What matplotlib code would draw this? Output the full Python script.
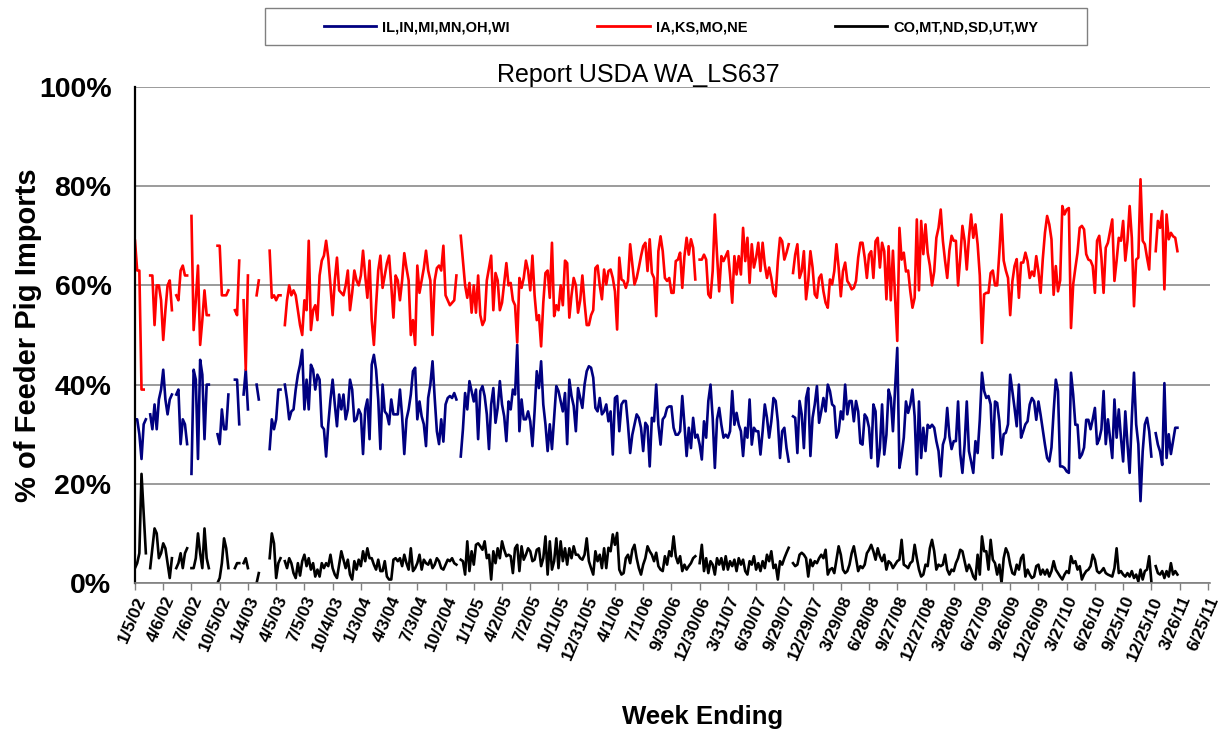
import numpy as np
import matplotlib
matplotlib.use("Agg")
import matplotlib.pyplot as plt
from matplotlib.lines import Line2D
from matplotlib.patches import Rectangle

nan = float("nan")

# ---------------- x axis (weekly data, tick every 13 weeks) ----------------
tick_labels = ["1/5/02", "4/6/02", "7/6/02", "10/5/02", "1/4/03", "4/5/03", "7/5/03",
               "10/4/03", "1/3/04", "4/3/04", "7/3/04", "10/2/04", "1/1/05", "4/2/05",
               "7/2/05", "10/1/05", "12/31/05", "4/1/06", "7/1/06", "9/30/06", "12/30/06",
               "3/31/07", "6/30/07", "9/29/07", "12/29/07", "3/29/08", "6/28/08", "9/27/08",
               "12/27/08", "3/28/09", "6/27/09", "9/26/09", "12/26/09", "3/27/10", "6/26/10",
               "9/25/10", "12/25/10", "3/26/11", "6/25/11"]
weeks_per_tick = 13

series_names = ["IL,IN,MI,MN,OH,WI", "IA,KS,MO,NE", "CO,MT,ND,SD,UT,WY"]

# ---------------- IL,IN,MI,MN,OH,WI (% of imports), weekly ----------------
east_a = [33, 33, 30, 25, 32, 33, nan, 34, 31, 36, 31, 37, 39, 43, 37, 34, 37, 38, nan, 38,
          39, 28, 33, 32, 28, nan, 22, 43, 41, 25, 45, 42, 29, 40, 40, nan, nan, nan, 30, 28,
          35, 31, 31, 38]
east_b = [nan, nan, 41, 41, 32, nan, 38, 43, 35, nan, nan, nan, 40, 37, nan, nan, nan, nan,
          27, 33, 31, 33, 39, 39, nan, 40, 37, 33, 34.6, 35, 39, 42, 44, 47, 35, 41, 35, 44,
          43, 39, 42, 41]
east_c = [31.6, 31, 25.5, 32, 37, 41, 36, 31.6, 38, 35, 38, 33, 35, 41, 39, 32.6, 33, 35, 34,
          26, 35, 37, 29, 44, 46, 43, 37, 27, 40, 34.6, 34, 32, 37, 34, 34, 34, 39, 33.6, 26,
          33, 35, 38, 42.7]
east_d = [43.4, 33, 36.6, 33.6, 32, 27.6, 37.3, 40, 44.7, 37.3, 30.6, 28, 33, 28.5, 36, 37.3,
          37.7, 37.3, 38.3, 37, nan, 25.5, 31, 38.3, 35, 40.7, 38.7, 36.6, 39, 29, 38.7, 39.7,
          37.7, 34, 27, 36, 39.3, 32.3, 35.3, 40.7, 36, 33.6, 28.6, 36.6]
east_e = [35, 39, 38, 48, 30.6, 37, 33, 33, 34.6, 32.6, 27.6, 34.6, 42.7, 39.3, 44.7, 36, 32,
          26.6, 32, 27, 33.3, 39.7, 38.7, 36.6, 34.6, 38.3, 28, 41, 37.7, 35.7, 30.6, 39.3,
          37.3, 35.3, 40, 42.7, 43.7, 43.4, 41.4, 35.3, 34.6, 37.3, 34, 34.6]
east_f = [36, 32.6, 34.6, 25.9, 37.3, 37.7, 30.6, 36, 36.7, 36.7, 31.9, 26.2, 29.9, 31.9, 34,
          33.3, 31.3, 26.6, 32.3, 31.6, 23.5, 33.3, 32.6, 40, 31.9, 27.9, 33, 33.6, 35.3, 35.6,
          35.6, 31.3, 29.9, 29.9, 30.6, 37.7, 31.9, 25.6, 31.3, 27.2, 33.3, 29.3, 29.9, 27.9]
east_g = [24.9, 32.6, 29.3, 36.7, 40, 33.3, 23.2, 33, 35.3, 31.9, 29.3, 29.9, 29.3, 30.6, 38.7,
          31.9, 34.3, 31.9, 30.6, 25.6, 31.3, 29.3, 37, 27.9, 31.3, 30.6, 30.6, 25.9, 30.6, 36,
          33.3, 29.3, 32.6, 37.3, 36.7, 32.6, 25.2, 30.6, 31.3, 27.2, 24.5, nan, 33.6]
east_h = [33.3, 26.2, 36.7, 34, 27.2, 37.3, 39.3, 25.6, 33.3, 36, 39.7, 32.3, 34.6, 37.3, 34.6,
          40, 38.7, 36, 35.6, 29.3, 30.6, 34.6, 33, 40, 34, 36.7, 36.7, 32.6, 36.7, 34.6, 28.2,
          27.9, 34, 33.3, 31.3, 25.2, 36, 34.6, 23.5, 27.2, 36, 25.9, 29.9, 39]
east_i = [37.3, 30.6, 39.3, 47.4, 23.2, 25.9, 29.3, 36.6, 34.3, 36, 39, 33.6, 21.9, 36.6, 25.2,
          31.3, 26.6, 31.9, 31.3, 31.9, 31.3, 28.6, 26.6, 21.5, 27.9, 29.3, 35.3, 29.6, 27,
          28.6, 28.6, 36.6, 26, 22.2, 27.9, 36.6, 26.6, 24.5, 22.2, 28.6, 26.2, 32.9, 42.4, 38.7]
east_j = [37.3, 37.7, 36, 25.2, 36.6, 36.3, 32.6, 25.9, 30, 30.3, 32, 42, 38.7, 35.3, 31.6, 40,
          29.3, 30.6, 32, 32.6, 36, 37.3, 36.6, 32.9, 36.6, 33.9, 30.9, 27.9, 25.2, 24.5, 27.3,
          34.6, 41, 38.7, 23.5, 23.5, 23.2, 22.5, 22.2, 42.4, 38, 31.9, 31.9, 25.2]
east_k = [25.9, 27.3, 32.9, 32.9, 31, 33, 35.3, 28, 29, 31, 38.7, 28, 33, 29, 25.2, 37, 29.3,
          35, 29.3, 24.5, 34.6, 28, 22.2, 33.3, 42.4, 32, 28, 16.5, 26.5, 32, 33.3, 30.6, 25.5,
          nan, 30.2, 27.9, 26.5, 23.8, 40.3, 25.2, 30, 26, 28.6, 31.3, 31.3]

# ---------------- IA,KS,MO,NE ----------------
plains_a = [69, 63, 63, 39, 39, nan, nan, 62, 62, 52, 60, 60, 57, 49, 55, 60, 61, 55, nan, 58,
            57, 63, 64, 62, 62, nan, 74, 51, 57, 64, 48, 53, 59, 54, 54, nan, nan, nan, 68, 68,
            58, 58, 58, 59]
plains_b = [nan, nan, 55, 54, 65, nan, 57, 43, 62, nan, nan, nan, 58, 61, nan, nan, nan, nan,
            67, 57.5, 58, 57, 58, 58, nan, 52, 57, 60, 58, 59, 58, 55, 52, 50, 57, 55, 69, 51,
            55, 56, 53, 62]
plains_c = [65, 66, 69, 65.5, 60, 54, 61, 65.6, 59, 58.5, 58, 60, 63, 55, 58.5, 63, 61, 60, 62,
            67, 62, 57.5, 65, 53, 48, 56, 63, 66, 59.5, 62, 64.5, 66, 60, 53.5, 62, 61, 57, 61,
            66.5, 63.5, 61, 50, 53]
plains_d = [48, 64, 58.5, 61, 63.5, 67, 63, 61, 50, 61, 63.5, 64, 63, 68, 58, 57, 56, 56.5, 57,
            62, nan, 70, 65, 60, 57.5, 60.5, 54.5, 60, 54.5, 62, 54, 52, 53, 61, 63.5, 66, 55,
            62.5, 61, 55, 56.5, 60.5, 64.5, 60]
plains_e = [60.5, 57, 56, 48.5, 61.5, 59.5, 61.5, 65, 63, 59, 66, 58, 53, 54, 47.7, 56.5, 62.5,
            63, 57.5, 68.6, 53.8, 56, 55, 60, 56, 65, 64.5, 53.5, 58, 61.5, 60, 54.5, 57, 62,
            56.5, 52, 52, 54, 55, 63.5, 64, 60, 57.2, 63.2]
plains_f = [60.2, 62.9, 63.2, 61.5, 58.8, 51.1, 65.6, 61.2, 60.9, 59.5, 60.9, 68.3, 64.2, 60.2,
            61.5, 63.6, 65.9, 67.9, 68.6, 62.9, 69.3, 62.5, 61.5, 53.8, 66.9, 69.9, 66.9, 61.5,
            60.9, 61.5, 58.5, 58.5, 64.9, 65.2, 66.6, 59.5, 65.9, 69.6, 66.2, 69.3, 67.6, 61.2,
            nan, 65.2]
plains_g = [65.2, 66.2, 65.2, 58.2, 57.5, 62.9, 74.3, 66.2, 58.8, 65.9, 64.9, 65.9, 66.9, 62.2,
            56.5, 65.9, 62.2, 65.9, 62.2, 71.6, 64.9, 69.6, 60.5, 68.3, 63.6, 65.6, 68.6, 62.9,
            68.6, 64.2, 61.5, 63.6, 61.5, 58.5, 57.8, 64.9, 69.6, 68.9, 65.2, 66.6, 68.3, nan,
            62.5]
plains_h = [66.2, 68.3, 61.5, 62.9, 66.9, 57.2, 60.9, 66.9, 63.6, 58.2, 57.5, 61.5, 62.2, 58.8,
            56.5, 55.5, 61.2, 60.2, 62.9, 68.3, 63.6, 57.8, 62.9, 64.6, 60.9, 60.2, 59.2, 59.5,
            60.9, 65.6, 68.6, 68.6, 65.6, 61.5, 66.2, 66.9, 61.5, 68.9, 69.6, 63.6, 68.6, 66.9,
            57.2, 67.9]
plains_i = [57, 67, 57.5, 48.8, 71.6, 65.2, 66.6, 62.8, 63, 58.8, 55.5, 57.5, 73.3, 59, 73,
            66.3, 72.3, 66.6, 64, 60, 62.8, 69.6, 71.6, 75.3, 69, 65, 61.5, 67, 70, 69, 69, 60,
            65.6, 72, 69, 63.2, 69.6, 74.3, 69.6, 72.3, 68.3, 62, 48.4, 58.2]
plains_j = [58.5, 58.5, 62.5, 63, 60, 60, 66.6, 74.3, 65, 63, 61.5, 54, 60.8, 63.9, 65.3, 57.5,
            64.6, 64.6, 66.6, 64.9, 61.5, 62.8, 61.9, 65.9, 62.8, 58.5, 65.3, 70.6, 74, 72.3,
            69.3, 58.1, 63.9, 58.8, 61, 76, 74.3, 75.3, 75.6, 51.4, 60.2, 63.5, 66.6, 71.6]
plains_k = [72, 71.3, 66.3, 65.2, 65, 63.9, 58.5, 69, 70, 65.6, 58.5, 67.6, 68.6, 71, 73.3,
            60.9, 65, 69.6, 69, 73, 65, 69, 76, 69.6, 55.8, 65.2, 65.6, 81.4, 69, 68.3, 65.6,
            63.2, 74.3, nan, 66.9, 73, 71.6, 75, 59.2, 74.3, 69.3, 70.6, 69.9, 69.6, 66.9]

# ---------------- CO,MT,ND,SD,UT,WY ----------------
west_a = [3, 4, 6, 22, 14, 6, nan, 3, 7, 11, 10, 5, 6, 8, 7, 4, 1, 5, nan, 3, 4, 6, 3, 6, 7,
          nan, 3, 3, 5, 10, 6, 3, 11, 5, 3, nan, nan, nan, 0, 1, 4, 9, 7, 3]
west_b = [nan, nan, 3, 4, 4, nan, 4, 5, 3, nan, nan, nan, 0, 2, nan, nan, nan, nan, 5, 10, 8,
          1, 4, 5, nan, 4.4, 3, 5, 4, 2, 1, 4, 1.5, 4.4, 5.7, 3.4, 5, 2.7, 4, 1.3, 2.7, 1.3]
west_c = [4, 3, 4, 3.4, 5.7, 3, 1.7, 1, 3.7, 6.4, 4.7, 3, 4.7, 1.7, 0.7, 4.4, 2.7, 4.7, 3.4,
          6.4, 4.4, 7, 5, 5, 3.7, 2.7, 4.7, 2.4, 2.4, 4.4, 1.3, 0.7, 0.7, 4.7, 5, 4.4, 5, 3.4,
          5.7, 4, 2.7, 7, 2.4]
west_d = [3, 4, 5.7, 2.7, 4.7, 4, 3.7, 4.7, 3, 3.7, 5, 4.4, 3, 2.7, 3.7, 4.7, 4.4, 5, 4, 3.7,
          nan, 4.7, 4.4, 1.7, 8.4, 2.4, 6.4, 3.7, 7.7, 8, 7.4, 6.7, 8.4, 5, 5.7, 0.7, 6.4, 4,
          7, 5, 8.4, 6.7, 5.4, 5.7]
west_e = [5.4, 2, 7, 7.7, 2.4, 7.4, 4.7, 5.7, 7, 6.4, 4.4, 4.7, 6.7, 7, 3.4, 5, 9.4, 1.7, 8.4,
          2.7, 4.4, 9, 3, 8.4, 4.4, 7, 3.7, 7, 5, 7.4, 5.7, 5.7, 5, 4.7, 5.7, 9, 4.4, 3, 1.7,
          6.4, 4.4, 5.7, 3, 7]
west_f = [3, 7.1, 6.4, 9.8, 7.7, 10.1, 2.7, 1.7, 2, 5, 5.7, 4, 6.7, 7.7, 5, 3, 1.7, 3.7, 5,
          7.4, 6.4, 5.7, 4.4, 6.1, 3.4, 2.7, 2.4, 5.4, 3.7, 6.4, 5.4, 9.4, 5.4, 4, 5.4, 2.4,
          3.7, 2.7, 3.4, 4, 5, 5.4, nan, 4]
west_g = [7.7, 2.4, 5, 2, 4.4, 3.7, 1.7, 5, 3.7, 5, 2.7, 5.4, 2.7, 4.4, 3.4, 4.7, 2.4, 5, 3.7,
          4.7, 2.4, 1.7, 4.4, 3.7, 5.4, 2.7, 4, 2.4, 4.4, 3, 5.7, 4.4, 6.4, 3, 3.7, 0.7, 4.4,
          3.7, 5, 6.1, 7.1, nan, 4]
west_h = [3.4, 3.7, 5.7, 6.1, 5.7, 5, 1.3, 4.7, 3.4, 4.4, 4, 5, 5.7, 5, 6.7, 1.7, 2.7, 3, 2,
          4.7, 7.4, 5.7, 2.7, 2, 2.4, 3.7, 6, 7.4, 5, 2.4, 3.4, 3, 3.7, 6, 6.7, 7.7, 6.4, 4.7,
          7, 5.4, 4.4, 5.7, 2.7, 4.4]
west_i = [4, 3, 3.7, 4.4, 4.7, 8.7, 3.7, 3.4, 3, 4, 4.4, 7.7, 5, 2.7, 1.3, 1.7, 3.7, 3.4, 7,
          8.7, 6.4, 2.7, 3.7, 3.4, 3.7, 5.7, 2.7, 1.7, 2.7, 2.4, 4, 5, 6.7, 6.4, 4.4, 2.4, 3.7,
          2.7, 1.3, 0.7, 5.7, 1.7, 9.4, 6.4]
west_j = [6.4, 2.7, 8.7, 4.7, 4, 1.7, 3.7, 0, 5, 7, 6, 3.7, 2, 1.7, 3.7, 2.7, 5, 5.7, 1.3,
          2.7, 1.7, 1, 1.3, 3.4, 3.7, 1.7, 2.7, 1.7, 2.7, 1.3, 2.4, 4.4, 2.7, 2, 1.3, 0.7, 1.7,
          2.4, 2, 5.4, 4, 4.4, 2.7, 3.4]
west_k = [0.7, 1.7, 2.4, 2.7, 3.4, 5.7, 4.7, 2.4, 2, 2.4, 3, 2, 1.7, 1.5, 1.3, 3, 7, 2, 2.4,
          1.7, 1.3, 2, 1.3, 2.4, 1, 1.7, 0.3, 2.7, 0.7, 2.4, 2.7, 5.4, 0.3, nan, 3.4, 2, 1.7,
          2.4, 1, 2.4, 1.3, 4, 1.7, 2.4, 1.7]

east = np.array(east_a + east_b + east_c + east_d + east_e + east_f + east_g + east_h +
                east_i + east_j + east_k, dtype=float)
plains = np.array(plains_a + plains_b + plains_c + plains_d + plains_e + plains_f + plains_g +
                  plains_h + plains_i + plains_j + plains_k, dtype=float)
west = np.array(west_a + west_b + west_c + west_d + west_e + west_f + west_g + west_h +
                west_i + west_j + west_k, dtype=float)

n = min(len(east), len(plains), len(west))
x = np.arange(n)

# ---------------- figure ----------------
W, H = 1222, 734
plt.rcParams["font.family"] = ["Liberation Sans", "DejaVu Sans"]
fig = plt.figure(figsize=(W / 100, H / 100), dpi=100)
ax = fig.add_axes([135 / W, 1 - 583 / H, (1210 - 135) / W, (583 - 87) / H])

colors = ["#000080", "#FF0000", "#000000"]
for y, c in zip([east, plains, west], colors):
    ax.plot(x, y[:n], color=c, lw=1.9, solid_joinstyle="round")

ax.set_ylim(0, 100)
ax.set_xlim(0, 495)
ax.set_yticks(np.arange(0, 101, 20))
ax.set_yticklabels([f"{v}%" for v in range(0, 101, 20)], fontsize=20.5, fontweight="bold")
ax.set_xticks(np.arange(len(tick_labels)) * weeks_per_tick)
ax.set_xticklabels(tick_labels, rotation=67, ha="right", rotation_mode="anchor",
                   fontsize=12.5, fontweight="bold")
ax.tick_params(axis="x", length=5, width=1, color="#808080", pad=3)
ax.tick_params(axis="y", length=0, pad=17)
ax.grid(axis="y", color="#808080", lw=1.1)
ax.set_axisbelow(True)
for s in ["top", "right"]:
    ax.spines[s].set_visible(False)
ax.spines["left"].set_color("black")
ax.spines["left"].set_linewidth(1.6)
ax.spines["bottom"].set_color("#808080")
ax.spines["bottom"].set_linewidth(1.2)

ax.set_ylabel("% of Feeder Pig Imports", fontsize=21, fontweight="bold")
ax.yaxis.set_label_coords(-(135 - 42) / (1210 - 135), 0.5)
fig.text(703 / W, 1 - 717 / H, "Week Ending", ha="center", va="center",
         fontsize=18.5, fontweight="bold")
fig.text(638 / W, 1 - 75 / H, "Report USDA WA_LS637", ha="center", va="center", fontsize=18)

# legend
handles = [Line2D([], [], color=c, lw=2) for c in colors]
fig.legend(handles, series_names, loc="center", bbox_to_anchor=(681 / W, 1 - 27 / H),
           ncol=3, frameon=False, handlelength=3.6, handletextpad=0.4, columnspacing=6.0,
           prop={"weight": "bold", "size": 10.5})
fig.patches.append(Rectangle((265 / W, 1 - 45 / H), 822 / W, 37 / H, transform=fig.transFigure,
                             fill=False, edgecolor="#808080", lw=1))

fig.savefig("out.png", dpi=100)
